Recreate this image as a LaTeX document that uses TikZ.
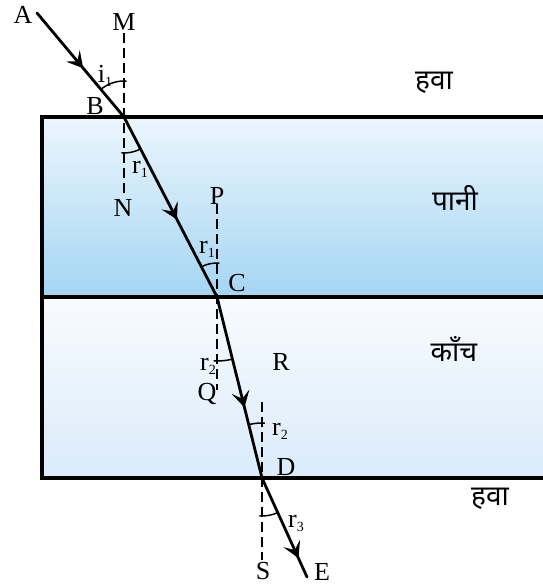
\documentclass[tikz,border=0pt]{standalone}
\usepackage{fontspec}
\setmainfont{Liberation Serif}
\newfontfamily\hindi[Script=Devanagari]{Noto Sans}
\usetikzlibrary{arrows.meta,decorations.markings}
\definecolor{wtop}{RGB}{236,246,253}
\definecolor{wbot}{RGB}{164,213,243}
\definecolor{gtop}{RGB}{248,251,254}
\definecolor{gbot}{RGB}{218,235,250}
\newcommand{\lsub}[1]{\raisebox{-4pt}{\fontsize{14}{14}\selectfont #1}}
\begin{document}
\begin{tikzpicture}[x=1pt,y=-1pt,
  lbl/.style={font=\fontsize{26}{30}\selectfont, inner sep=0pt},
  hin/.style={font=\hindi\fontsize{28}{32}\selectfont, inner sep=0pt},
  ray/.style={line width=2.8pt, line cap=round},
  normal/.style={line width=2.7pt, dash pattern=on 10pt off 5pt},
  angarc/.style={line width=1.5pt},
  border/.style={line width=3.2pt},
  arrowat/.style={postaction={decorate}, decoration={markings, mark=at position #1 with {\arrow{Stealth[length=16pt,width=18pt,inset=7pt]}}}}
]
\useasboundingbox (0,0) rectangle (543,586);
\shade[top color=wtop,bottom color=wbot] (42,117) rectangle (543,297);
\shade[top color=gtop,bottom color=gbot] (42,297) rectangle (543,478);
\draw[border] (543,117) -- (42,117) -- (42,478) -- (543,478);
\draw[border] (42,297) -- (543,297);

\coordinate (A) at (37,13);
\coordinate (B) at (124,117);
\coordinate (C) at (217,297);
\coordinate (D) at (262,478);
\coordinate (E) at (307,577);
\coordinate (Mt) at (124,33);
\coordinate (Nb) at (124,195);
\coordinate (Pt) at (217,204);
\coordinate (Qb) at (217,390);
\coordinate (Rt) at (262,402);
\coordinate (Sb) at (262,560);

\draw[normal] (Mt) -- (Nb);
\draw[normal] (Pt) -- (Qb);
\draw[normal] (Rt) -- (Sb);

\draw[ray, arrowat=0.53] (A) -- (B);
\draw[ray, arrowat=0.57] (B) -- (C);
\draw[ray, arrowat=0.61] (C) -- (D);
\draw[ray, arrowat=0.81] (D) -- (E);

\draw[angarc] (B) ++(-86:36) arc[start angle=-86, end angle=-129.9, radius=36];
\draw[angarc] (B) ++(94:36) arc[start angle=94, end angle=62.7, radius=36];
\draw[angarc] (C) ++(-86:34) arc[start angle=-86, end angle=-117.3, radius=34];
\draw[angarc] (C) ++(93:64) arc[start angle=93, end angle=76.0, radius=64];
\draw[angarc] (D) ++(-87:55) arc[start angle=-87, end angle=-104, radius=55];
\draw[angarc] (D) ++(94:38) arc[start angle=94, end angle=65.3, radius=38];

\node[lbl] (lA) at (23,15) {A};
\node[lbl] (lM) at (124,22) {M};
\node[lbl] (li1) at (105,76) {i\lsub{1}};
\node[lbl] (lB) at (95,106) {B};
\node[lbl] (lr1a) at (140,169) {r\lsub{1}};
\node[lbl] (lN) at (123,208) {N};
\node[lbl] (lP) at (217,196) {P};
\node[lbl] (lr1b) at (207,249) {r\lsub{1}};
\node[lbl] (lC) at (237,283) {C};
\node[lbl] (lr2a) at (208,366) {r\lsub{2}};
\node[lbl] (lQ) at (207,394) {Q};
\node[lbl] (lR) at (281,362) {R};
\node[lbl] (lr2b) at (280,431) {r\lsub{2}};
\node[lbl] (lD) at (286,467) {D};
\node[lbl] (lr3) at (296,523) {r\lsub{3}};
\node[lbl] (lS) at (263,571) {S};
\node[lbl] (lE) at (322,572) {E};

\node[hin] (h1) at (434,83) {हवा};
\node[hin] (h2) at (455,198) {पानी};
\node[hin] (h3) at (454,349) {काँच};
\node[hin] (h4) at (490,499) {हवा};
\end{tikzpicture}
\end{document}
